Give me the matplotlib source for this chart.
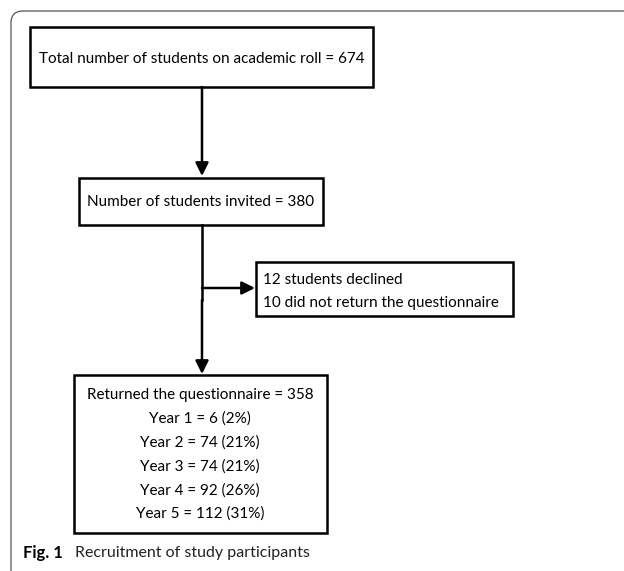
import matplotlib.pyplot as plt
from matplotlib.patches import Rectangle, FancyBboxPatch

# flowchart counts
total_roll = 674
invited = 380
declined = 12
not_returned = 10
returned = 358
years = [1, 2, 3, 4, 5]
year_counts = [6, 74, 74, 92, 112]
year_pcts = [2, 21, 21, 26, 31]

plt.rcParams["font.family"] = ["Lato", "DejaVu Sans"]

W, H = 624, 571
fig = plt.figure(figsize=(W / 100, H / 100), dpi=100)
ax = fig.add_axes([0, 0, 1, 1])
ax.set_xlim(0, W)
ax.set_ylim(H, 0)
ax.axis("off")

# outer frame (rounded, cut off at the right)
frame = FancyBboxPatch((11, 11), 700, 580, boxstyle="round,pad=0,rounding_size=12",
                       fill=False, ec="#555555", lw=0.9)
ax.add_patch(frame)


def box(x0, y0, x1, y1):
    ax.add_patch(Rectangle((x0, y0), x1 - x0, y1 - y0, fill=False, ec="black", lw=1.8))


def arrow(x0, y0, x1, y1):
    ax.annotate("", xy=(x1, y1), xytext=(x0, y0),
                arrowprops=dict(arrowstyle="-|>,head_length=0.6,head_width=0.3",
                                color="black", lw=1.8, mutation_scale=13,
                                shrinkA=0, shrinkB=0))


fs = 11.0

box(30, 27, 373, 87)
ax.text(202, 59, f"Total number of students on academic roll = {total_roll}",
        ha="center", va="center", fontsize=fs)

arrow(202, 87, 202, 176)

box(79, 178, 323, 225)
ax.text(201, 202, f"Number of students invited = {invited}",
        ha="center", va="center", fontsize=fs)

ax.plot([202, 202], [225, 300], color="black", lw=1.8)
arrow(202, 300, 202, 374)
arrow(202, 288, 255, 288)

box(256, 262, 513, 316)
ax.text(263, 280, f"{declined} students declined", ha="left", va="center", fontsize=fs)
ax.text(263, 303, f"{not_returned} did not return the questionnaire",
        ha="left", va="center", fontsize=fs)

box(74, 375, 327, 533)
lines = [f"Returned the questionnaire = {returned}"]
lines += [f"Year {y} = {c} ({p}%)" for y, c, p in zip(years, year_counts, year_pcts)]
for i, s in enumerate(lines):
    ax.text(200, 395 + i * 23.8, s, ha="center", va="center", fontsize=fs)

ax.text(23, 553, "Fig. 1", ha="left", va="center", fontsize=12, fontweight="bold")
ax.text(75, 553, "Recruitment of study participants", ha="left", va="center",
        fontsize=11.5, color="#222222")

fig.savefig("out.png", dpi=100)
